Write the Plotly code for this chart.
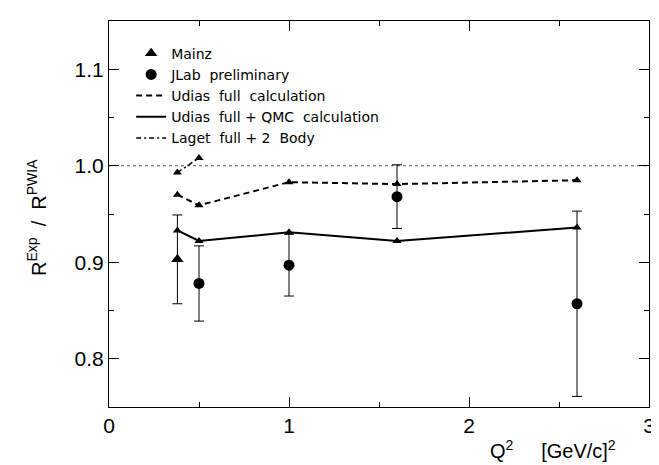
import plotly.graph_objects as go

# Data
q2_theory = [0.38, 0.5, 1.0, 1.6, 2.6]
udias_full = [0.970, 0.959, 0.983, 0.981, 0.985]
udias_qmc = [0.933, 0.922, 0.931, 0.922, 0.936]
q2_laget = [0.38, 0.5]
laget = [0.993, 1.008]

q2_mainz = [0.38]
mainz = [0.903]
mainz_err = [0.046]

q2_jlab = [0.5, 1.0, 1.6, 2.6]
jlab = [0.878, 0.897, 0.968, 0.857]
jlab_err = [0.039, 0.032, 0.033, 0.096]

ref_x = [0, 3]
ref_y = [1.0, 1.0]

FONT = "Liberation Sans"
LFONT = "DejaVu Sans"
fig = go.Figure()

# reference line at 1
fig.add_trace(go.Scatter(x=ref_x, y=ref_y, mode="lines", showlegend=False,
                         line=dict(color="#555555", width=1.2, dash="dot"), hoverinfo="skip"))

# legend entries (markers / lines)
fig.add_trace(go.Scatter(x=q2_mainz, y=mainz, mode="markers", name="Mainz",
                         marker=dict(symbol="triangle-up", size=11, color="black"),
                         error_y=dict(type="data", array=mainz_err, color="black", thickness=1, width=5)))
fig.add_trace(go.Scatter(x=q2_jlab, y=jlab, mode="markers", name="JLab  preliminary",
                         marker=dict(symbol="circle", size=11, color="black"),
                         error_y=dict(type="data", array=jlab_err, color="black", thickness=1, width=5)))
fig.add_trace(go.Scatter(x=q2_theory, y=udias_full, mode="lines", name="Udias  full  calculation",
                         line=dict(color="black", width=2, dash="6px,4px")))
fig.add_trace(go.Scatter(x=q2_theory, y=udias_qmc, mode="lines", name="Udias  full + QMC  calculation",
                         line=dict(color="black", width=2)))
fig.add_trace(go.Scatter(x=q2_laget, y=laget, mode="lines", name="Laget  full + 2  Body",
                         line=dict(color="black", width=1.5, dash="5px,3px,2px,3px")))

# theory markers
for xs, ys in [(q2_theory, udias_full), (q2_theory, udias_qmc), (q2_laget, laget)]:
    fig.add_trace(go.Scatter(x=xs, y=ys, mode="markers", showlegend=False,
                             marker=dict(symbol="triangle-up", size=8, color="black")))

fig.update_layout(
    width=659, height=465,
    margin=dict(l=101, r=15, t=12, b=66),
    plot_bgcolor="white", paper_bgcolor="white",
    font=dict(family=FONT, color="black"),
    showlegend=True,
    legend=dict(x=0.041, y=0.957, xanchor="left", yanchor="top",
                bgcolor="rgba(0,0,0,0)", font=dict(size=14, family=LFONT),
                tracegroupgap=0, itemwidth=30),
    xaxis=dict(range=[0, 3], tickvals=[0, 1, 2, 3], ticks="inside", ticklen=10,
               tickcolor="black", showline=True, linecolor="black", linewidth=1, mirror="ticks",
               showgrid=False, zeroline=False, tickfont=dict(size=21, family=FONT),
               minor=dict(tickvals=[0.5, 1.5, 2.5], ticks="inside", ticklen=5, tickcolor="black")),
    yaxis=dict(range=[0.75, 1.15], tickvals=[0.8, 0.9, 1.0, 1.1], ticktext=["0.8", "0.9", "1.0", "1.1"],
               ticks="inside", ticklen=10, tickcolor="black", showline=True, linecolor="black",
               linewidth=1, mirror="ticks", showgrid=False, zeroline=False,
               tickfont=dict(size=21, family=FONT),
               minor=dict(tickvals=[0.85, 0.95, 1.05], ticks="inside", ticklen=5, tickcolor="black")),
    annotations=[
        dict(text="Q<sup>2</sup>     [GeV/c]<sup>2</sup>", xref="paper", yref="paper",
             x=0.943, y=-0.11, xanchor="right", yanchor="middle", showarrow=False,
             font=dict(size=20, family=FONT)),
        dict(text="R<sup>Exp</sup>  /  R<sup>PWIA</sup>", xref="paper", yref="paper",
             x=-0.133, y=0.49, xanchor="center", yanchor="middle", textangle=-90,
             showarrow=False, font=dict(size=20, family=FONT)),
    ],
)

fig.write_html("out.html")
